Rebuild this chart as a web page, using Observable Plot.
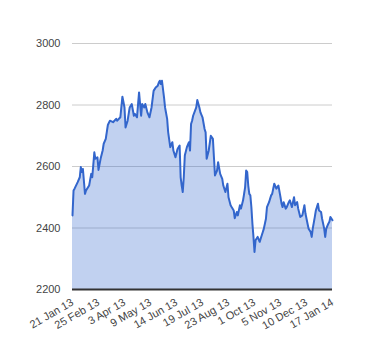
<!DOCTYPE html>
<html>
<head>
<meta charset="utf-8">
<script src="https://cdn.jsdelivr.net/npm/d3@7"></script>
<script src="https://cdn.jsdelivr.net/npm/@observablehq/plot@0.6"></script>
<style>
  html, body { margin: 0; padding: 0; background: #fff; }
  #chart { width: 380px; height: 360px; }
</style>
</head>
<body>
<div id="chart"></div>
<script>
// Trading-day index (x) and closing value (y)
const days = [0,1,2,5,7,8,9,10,12,13,16,18,19,21,22,24,25,27,29,30,32,34,36,39,42,43,46,48,50,51,53,55,57,59,60,62,64,65,66,67,69,70,72,74,76,78,80,82,83,84,85,86,88,89,91,92,94,96,97,99,101,103,104,105,106,107,108,110,112,113,114,115,116,119,120,122,123,125,127,128,129,131,133,135,136,137,139,140,142,144,145,147,149,150,152,153,155,156,158,159,161,162,164,165,166,167,168,169,170,171,172,173,174,175,176,178,180,181,183,184,186,187,189,191,192,194,196,197,198,200,201,202,203,205,206,208,209,211,213,214,216,217,219,221,222,223,224,226,227,229,230,231,233,234,236,237,239,240,242,243,244,246,247,248,250];
const values = [2441,2522,2528,2549,2565,2598,2582,2592,2511,2522,2538,2576,2565,2646,2625,2630,2589,2625,2652,2674,2690,2735,2749,2744,2755,2749,2760,2827,2792,2727,2749,2792,2803,2765,2771,2760,2841,2803,2765,2803,2792,2803,2776,2760,2792,2846,2857,2863,2873,2879,2868,2879,2825,2792,2755,2711,2663,2679,2652,2630,2657,2668,2565,2538,2517,2565,2636,2663,2679,2652,2738,2749,2765,2792,2816,2792,2776,2760,2722,2711,2625,2652,2700,2690,2630,2571,2587,2614,2576,2560,2538,2517,2544,2500,2474,2468,2457,2432,2452,2441,2474,2463,2490,2511,2533,2587,2582,2538,2511,2506,2468,2414,2371,2322,2360,2371,2355,2366,2387,2398,2430,2468,2484,2506,2511,2544,2528,2533,2538,2500,2479,2468,2484,2463,2468,2484,2490,2468,2500,2474,2484,2463,2436,2441,2457,2474,2447,2414,2398,2387,2371,2398,2436,2457,2479,2457,2452,2430,2398,2371,2398,2414,2420,2436,2425];
const tickDays = [0,25,50,75,100,125,150,175,200,225,250];
const tickLabels = ["21 Jan 13","25 Feb 13","3 Apr 13","9 May 13","14 Jun 13","19 Jul 13","23 Aug 13","1 Oct 13","5 Nov 13","10 Dec 13","17 Jan 14"];
const yTicks = [2200,2400,2600,2800,3000];
const gridTicks = [2400,2600,2800,3000];
const baseValue = 2200;

const data = days.map((d, i) => ({day: d, value: values[i]}));
const labelOf = new Map(tickDays.map((d, i) => [d, tickLabels[i]]));

const chart = Plot.plot({
  width: 380,
  height: 360,
  marginLeft: 72,
  marginRight: 48,
  marginTop: 43,
  marginBottom: 71,
  style: {fontFamily: "Arial, 'Liberation Sans', sans-serif", fontSize: "11px", color: "#444", background: "#fff"},
  x: {domain: [0, 250], label: null},
  y: {domain: [2200, 3000], label: null},
  marks: [
    Plot.ruleY(gridTicks, {stroke: "#cccccc", strokeWidth: 1}),
    Plot.areaY(data, {x: "day", y1: baseValue, y2: "value", fill: "#3366cc", fillOpacity: 0.3}),
    Plot.lineY(data, {x: "day", y: "value", stroke: "#3366cc", strokeWidth: 2, strokeLinejoin: "round"}),
    Plot.ruleY([baseValue], {stroke: "#333333", strokeWidth: 2}),
    Plot.axisX({ticks: tickDays, tickFormat: d => labelOf.get(d), tickSize: 0, tickPadding: 12, tickRotate: -30, fill: "#444", label: null}),
    Plot.axisY({ticks: yTicks, tickFormat: d => String(d), tickSize: 0, tickPadding: 12, fill: "#444", label: null})
  ]
});
document.getElementById("chart").appendChild(chart);
</script>
</body>
</html>
